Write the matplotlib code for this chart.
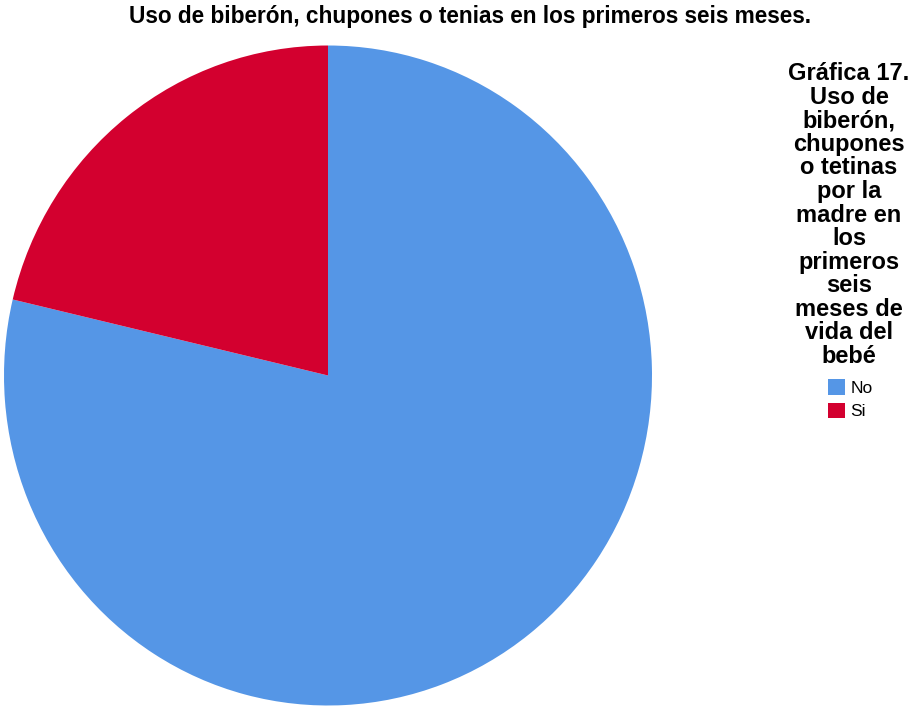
import matplotlib
matplotlib.use("Agg")
import matplotlib.pyplot as plt

# porcentajes de cada respuesta
categorias = ["No", "Si"]
porcentajes = [78.7, 21.3]
colores = ["#5596E6", "#D3002F"]

titulo = "Uso de biberón, chupones o tenias en los primeros seis meses."
titulo_leyenda = ("Gráfica 17.\nUso de\nbiberón,\nchupones\no tetinas\npor la\n"
                  "madre en\nlos\nprimeros\nseis\nmeses de\nvida del\nbebé")

plt.rcParams['font.family'] = ['Liberation Sans', 'DejaVu Sans']

fig = plt.figure(figsize=(9.11, 7.06), dpi=100)
ax = fig.add_axes([4 / 911, 0.5 / 706, 648 / 911, 660 / 706])
wedges, _ = ax.pie(porcentajes, colors=colores, startangle=90, counterclock=False,
                   radius=1, wedgeprops=dict(linewidth=0))
ax.set_xlim(-1, 1)
ax.set_ylim(-1, 1)
ax.set_aspect('auto')

fig.text(470 / 911, 1 - 16 / 706, titulo, ha='center', va='center',
         fontsize=16.3, fontweight='bold')

fig.text(849 / 911, 1 - 215 / 706, titulo_leyenda, ha='center', va='center',
         fontsize=17, fontweight='bold', linespacing=1.03)

leg = fig.legend(wedges, categorias, loc='upper left',
                 bbox_to_anchor=(828 / 911, 1 - 379 / 706), frameon=False,
                 fontsize=12.5, handlelength=1.0, handleheight=1.0,
                 handletextpad=0.3, labelspacing=0.4, borderpad=0,
                 borderaxespad=0)

fig.savefig("out.png", dpi=100)
